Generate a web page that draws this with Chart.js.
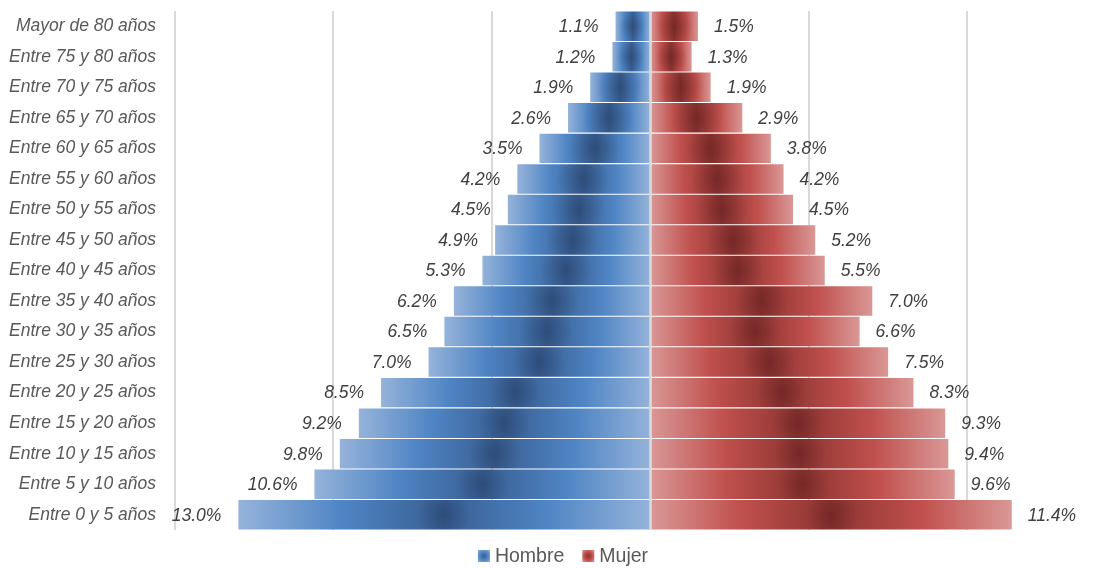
<!DOCTYPE html>
<html>
<head>
<meta charset="utf-8">
<title>Pirámide de población</title>
<script src="https://cdn.jsdelivr.net/npm/chart.js@4.4.1/dist/chart.umd.min.js"></script>
<style>
  html, body { margin: 0; padding: 0; background: #ffffff; }
  #wrap { width: 1110px; height: 568px; }
</style>
</head>
<body>
<div id="wrap"><canvas id="pyramid" width="1110" height="568"></canvas></div>
<script>
// Age groups, oldest at the top
const ageGroups = [
  'Mayor de 80 años', 'Entre 75 y 80 años', 'Entre 70 y 75 años', 'Entre 65 y 70 años',
  'Entre 60 y 65 años', 'Entre 55 y 60 años', 'Entre 50 y 55 años', 'Entre 45 y 50 años',
  'Entre 40 y 45 años', 'Entre 35 y 40 años', 'Entre 30 y 35 años', 'Entre 25 y 30 años',
  'Entre 20 y 25 años', 'Entre 15 y 20 años', 'Entre 10 y 15 años', 'Entre 5 y 10 años',
  'Entre 0 y 5 años'
];

// Share of the population (%) in each age group
const hombre = [1.1, 1.2, 1.9, 2.6, 3.5, 4.2, 4.5, 4.9, 5.3, 6.2, 6.5, 7.0, 8.5, 9.2, 9.8, 10.6, 13.0];
const mujer  = [1.5, 1.3, 1.9, 2.9, 3.8, 4.2, 4.5, 5.2, 5.5, 7.0, 6.6, 7.5, 8.3, 9.3, 9.4, 9.6, 11.4];

// Vertical grid positions (%)
const gridSteps = [-15, -10, -5, 0, 5, 10];

const FONT = '"Liberation Sans", Arial, sans-serif';

const bluePalette = { light: '#95b3da', mid: '#4f85c4', dark: '#385e92', spot: 'rgba(25,40,70,' };
const redPalette  = { light: '#d99896', mid: '#c0504d', dark: '#8c3431', spot: 'rgba(70,15,15,' };

// Horizontal gradient along each bar: light at both ends, dark in the middle
function barFill(pal) {
  return function (c) {
    if (c.type !== 'data') return pal.mid;
    const xs = c.chart.scales.x;
    if (!xs) return pal.mid;
    const tip = xs.getPixelForValue(c.raw);
    const base = xs.getPixelForValue(0);
    if (!isFinite(tip) || !isFinite(base) || Math.abs(tip - base) < 1) return pal.mid;
    const g = c.chart.ctx.createLinearGradient(tip, 0, base, 0);
    g.addColorStop(0, pal.light);
    g.addColorStop(0.25, pal.mid);
    g.addColorStop(0.5, pal.dark);
    g.addColorStop(0.75, pal.mid);
    g.addColorStop(1, pal.light);
    return g;
  };
}

// Dark spot in the centre of every bar, the zero line and the value labels
const barDecor = {
  id: 'barDecor',
  afterDatasetsDraw(chart) {
    const ctx = chart.ctx;
    const area = chart.chartArea;
    ctx.save();
    chart.data.datasets.forEach((ds, i) => {
      const meta = chart.getDatasetMeta(i);
      meta.data.forEach((bar) => {
        const left = Math.min(bar.x, bar.base);
        const right = Math.max(bar.x, bar.base);
        const top = bar.y - bar.height / 2;
        const w = right - left;
        const cx = (left + right) / 2;
        const r = Math.min(bar.height * 0.9, w * 0.4);
        if (r <= 1) return;
        ctx.save();
        ctx.beginPath();
        ctx.rect(left, top, w, bar.height);
        ctx.clip();
        const g = ctx.createRadialGradient(cx, bar.y, 0, cx, bar.y, r);
        g.addColorStop(0, ds.palette.spot + '0.32)');
        g.addColorStop(1, ds.palette.spot + '0)');
        ctx.fillStyle = g;
        ctx.fillRect(left, top, w, bar.height);
        ctx.restore();
      });
    });

    const x0 = chart.scales.x.getPixelForValue(0);
    ctx.strokeStyle = '#d9d9d9';
    ctx.lineWidth = 2;
    ctx.beginPath();
    ctx.moveTo(x0, area.top);
    ctx.lineTo(x0, area.bottom);
    ctx.stroke();

    ctx.font = 'italic 17.5px ' + FONT;
    ctx.fillStyle = '#404040';
    ctx.textBaseline = 'middle';
    chart.data.datasets.forEach((ds, i) => {
      const meta = chart.getDatasetMeta(i);
      meta.data.forEach((bar, j) => {
        const v = ds.data[j];
        const txt = Math.abs(v).toFixed(1) + '%';
        const neg = v < 0;
        ctx.textAlign = neg ? 'right' : 'left';
        ctx.fillText(txt, bar.x + (neg ? -17 : 16), bar.y + 1);
      });
    });
    ctx.restore();
  }
};

// Legend below the plot
const bottomLegend = {
  id: 'bottomLegend',
  afterDraw(chart) {
    const ctx = chart.ctx;
    ctx.save();
    ctx.font = '19.5px ' + FONT;
    ctx.textBaseline = 'middle';
    ctx.textAlign = 'left';
    const box = 12, gapText = 5, gapItem = 18;
    const items = chart.data.datasets.map(ds => ({
      text: ds.label, pal: ds.palette, w: ctx.measureText(ds.label).width
    }));
    const total = items.reduce((s, it) => s + box + gapText + it.w, 0) + gapItem * (items.length - 1);
    let x = chart.width / 2 + 8 - total / 2;
    const y = chart.chartArea.bottom + 26;
    items.forEach(it => {
      const g = ctx.createRadialGradient(x + box / 2, y, 0, x + box / 2, y, box * 0.7);
      g.addColorStop(0, it.pal.dark);
      g.addColorStop(0.5, it.pal.mid);
      g.addColorStop(1, it.pal.light);
      ctx.fillStyle = g;
      ctx.fillRect(x, y - box / 2, box, box);
      ctx.fillStyle = '#595959';
      ctx.fillText(it.text, x + box + gapText, y + 1);
      x += box + gapText + it.w + gapItem;
    });
    ctx.restore();
  }
};

new Chart(document.getElementById('pyramid'), {
  type: 'bar',
  data: {
    labels: ageGroups,
    datasets: [
      {
        label: 'Hombre',
        data: hombre.map(v => -v),
        palette: bluePalette,
        backgroundColor: barFill(bluePalette),
        borderWidth: 0,
        barPercentage: 0.965,
        categoryPercentage: 1
      },
      {
        label: 'Mujer',
        data: mujer,
        palette: redPalette,
        backgroundColor: barFill(redPalette),
        borderWidth: 0,
        barPercentage: 0.965,
        categoryPercentage: 1
      }
    ]
  },
  options: {
    indexAxis: 'y',
    responsive: false,
    animation: false,
    devicePixelRatio: 1,
    layout: { padding: { top: 11, bottom: 38, left: 0, right: 0 } },
    plugins: {
      legend: { display: false },
      tooltip: { enabled: false }
    },
    scales: {
      x: {
        stacked: true,
        min: -15,
        max: 14.5,
        ticks: { display: false, stepSize: 5 },
        afterBuildTicks(scale) {
          scale.ticks = gridSteps.map(v => ({ value: v }));
        },
        grid: { color: '#d9d9d9', lineWidth: 2, drawTicks: false },
        border: { display: false }
      },
      y: {
        stacked: true,
        afterFit(scale) {
          scale.width = 175;
          scale.paddingTop = 0;
          scale.paddingBottom = 0;
        },
        ticks: {
          padding: 19,
          color: '#595959',
          font: { family: FONT, size: 17.5, style: 'italic' }
        },
        grid: { display: false, drawTicks: false },
        border: { display: false }
      }
    }
  },
  plugins: [barDecor, bottomLegend]
});
</script>
</body>
</html>
